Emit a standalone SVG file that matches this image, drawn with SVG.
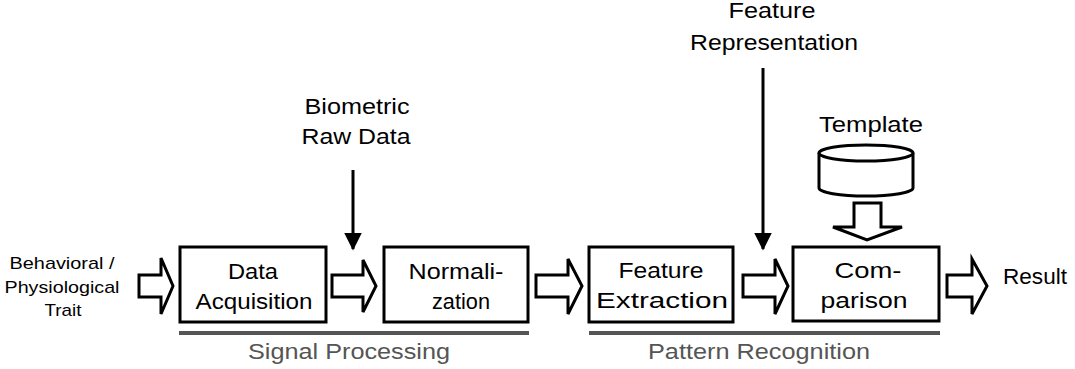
<svg xmlns="http://www.w3.org/2000/svg" width="1075" height="369" viewBox="0 0 1075 369">
  <style>
    .box { fill: #fff; stroke: #000; stroke-width: 3; }
    .hollow { fill: #fff; stroke: #000; stroke-width: 3; stroke-linejoin: miter; }
    .feed { stroke: #000; stroke-width: 3; fill: none; }
    .band { stroke: #555; stroke-width: 4; }
    .t { font-family: "Liberation Sans", Arial, sans-serif; font-size: 22px; fill: #000; text-anchor: middle; }
    .small { font-size: 17px; }
    .grey { fill: #555; font-size: 22px; }
  </style>
  <defs>
    <marker id="tip" markerWidth="6" markerHeight="6" refX="5.5" refY="3" orient="auto" markerUnits="strokeWidth">
      <path d="M0,0 L6,3 L0,6 Z" fill="#000"/>
    </marker>
  </defs>

  <rect width="1075" height="369" fill="#fff"/>

  <!-- input label -->
  <g id="trait">
    <text class="t small" x="62" y="269" textLength="105" lengthAdjust="spacingAndGlyphs">Behavioral /</text>
    <text class="t small" x="62" y="293" textLength="115" lengthAdjust="spacingAndGlyphs">Physiological</text>
    <text class="t small" x="63" y="316" textLength="37" lengthAdjust="spacingAndGlyphs">Trait</text>
  </g>

  <g id="acquisition">
    <rect class="box" x="180" y="247" width="146" height="75"/>
    <text class="t" x="253" y="279" textLength="50" lengthAdjust="spacingAndGlyphs">Data</text>
    <text class="t" x="254" y="309" textLength="117" lengthAdjust="spacingAndGlyphs">Acquisition</text>
  </g>

  <g id="normalization">
    <rect class="box" x="384" y="247" width="144" height="75"/>
    <text class="t" x="456" y="279" textLength="95" lengthAdjust="spacingAndGlyphs">Normali-</text>
    <text class="t" x="461" y="309" textLength="58" lengthAdjust="spacingAndGlyphs">zation</text>
  </g>

  <g id="extraction">
    <rect class="box" x="589" y="247" width="144" height="75"/>
    <text class="t" x="661" y="278" textLength="85" lengthAdjust="spacingAndGlyphs">Feature</text>
    <text class="t" x="662" y="308" textLength="132" lengthAdjust="spacingAndGlyphs">Extraction</text>
  </g>

  <g id="comparison">
    <rect class="box" x="793" y="247" width="146" height="74"/>
    <text class="t" x="868" y="278" textLength="67" lengthAdjust="spacingAndGlyphs">Com-</text>
    <text class="t" x="864" y="308" textLength="87" lengthAdjust="spacingAndGlyphs">parison</text>
  </g>

  <g id="template">
    <text class="t" x="871" y="132" textLength="104" lengthAdjust="spacingAndGlyphs">Template</text>
    <path class="box" stroke-width="2.5" d="M819,153 L819,188 A47,8 0 0 0 913,188 L913,153"/>
    <ellipse class="box" stroke-width="2.5" cx="866" cy="153" rx="47" ry="8"/>
  </g>

  <g id="raw-data">
    <text class="t" x="357" y="114" textLength="105" lengthAdjust="spacingAndGlyphs">Biometric</text>
    <text class="t" x="356" y="144" textLength="109" lengthAdjust="spacingAndGlyphs">Raw Data</text>
  </g>

  <g id="feature-representation">
    <text class="t" x="772" y="18" textLength="87" lengthAdjust="spacingAndGlyphs">Feature</text>
    <text class="t" x="774" y="50" textLength="168" lengthAdjust="spacingAndGlyphs">Representation</text>
  </g>

  <g id="result">
    <text class="t" x="1035" y="284" textLength="64" lengthAdjust="spacingAndGlyphs">Result</text>
  </g>

  <!-- stage groupings -->
  <g id="signal-processing">
    <line class="band" x1="179" y1="333" x2="529" y2="333"/>
    <text class="t grey" x="349" y="359" textLength="202" lengthAdjust="spacingAndGlyphs">Signal Processing</text>
  </g>
  <g id="pattern-recognition">
    <line class="band" x1="589" y1="333" x2="940" y2="333"/>
    <text class="t grey" x="759" y="359" textLength="222" lengthAdjust="spacingAndGlyphs">Pattern Recognition</text>
  </g>

  <g id="connectors">
    <!-- hollow block arrows along the pipeline -->
    <path class="hollow" d="M139,275 L161,275 L161,258 L173,286 L161,314 L161,297 L139,297 Z"/>
    <path class="hollow" d="M332,275 L363,275 L363,260 L376,286 L363,312 L363,297 L332,297 Z"/>
    <path class="hollow" d="M536,275 L568,275 L568,259 L582,286 L568,314 L568,297 L536,297 Z"/>
    <path class="hollow" d="M743,275 L775,275 L775,259 L788,286 L775,314 L775,297 L743,297 Z"/>
    <path class="hollow" d="M947,275 L972,275 L972,259 L987,286 L972,314 L972,297 L947,297 Z"/>
    <!-- template into comparison -->
    <path class="hollow" d="M854,203 L881,203 L881,227 L902,227 L867,240 L833,227 L854,227 Z"/>
    <!-- thin feed arrows -->
    <line class="feed" x1="353" y1="170" x2="353" y2="249" marker-end="url(#tip)"/>
    <line class="feed" x1="763" y1="68" x2="763" y2="249" marker-end="url(#tip)"/>
  </g>
</svg>
